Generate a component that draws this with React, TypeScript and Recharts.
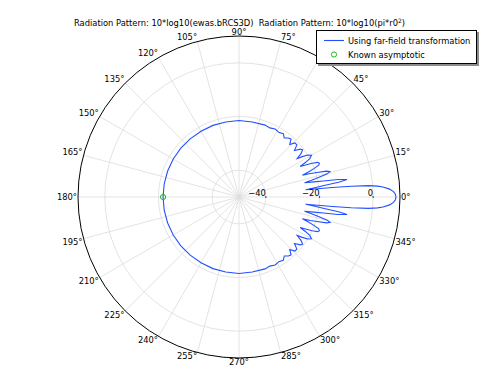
import { RadarChart, Radar, PolarGrid, PolarAngleAxis, PolarRadiusAxis } from "recharts";

// forward half (0..70 deg); the pattern is symmetric about 0 deg
const upperAngles = [
  0, 1, 2, 3, 4, 4.5, 5, 5.5, 5.8, 6.2,
  7, 7.7, 8.4, 9.2, 10, 10.7, 11.4, 12.2,
  13, 13.8, 14.7, 15.6, 16.5, 17.4, 18.2, 19,
  19.8, 20.8, 21.8, 22.8, 23.8, 24.8, 25.7, 26.5,
  27.5, 28.5, 30, 31.5, 32.5, 33.5,
  35, 36.5, 38, 40, 42, 44, 46, 48, 50, 52.5, 55, 58, 62, 66, 70,
];
const upperDb = [
  8.5, 8.3, 7.6, 6.2, 3.8, 1.8, -1.5, -8, -15, -25,
  -21.5, -18, -12.5, -9.2, -12.5, -18, -21.5, -25,
  -22, -19.5, -16, -14.8, -16, -19.5, -22, -25,
  -22.5, -20, -18, -17.5, -18, -20, -22.5, -24.5,
  -22, -20, -18.8, -20, -22, -24,
  -21.8, -20.5, -21, -23, -21, -21, -22.8, -21, -21.3, -22.3, -21.2, -21.7, -21.3, -21.8, -21.5,
];

// back half, nearly flat
const backAngles = [
  80, 90, 100, 110, 120, 130, 140, 150, 160, 170, 180, 190, 200, 210, 220, 230, 240, 250, 260, 270, 280,
];
const backDb = [
  -21.6, -21.5, -21.6, -21.6, -21.7, -21.7, -21.7, -21.7, -21.7, -21.7, -21.7, -21.7, -21.7, -21.7, -21.7,
  -21.7, -21.7, -21.6, -21.6, -21.5, -21.6,
];

// known asymptotic value, 10*log10(pi*r0^2)
const asymAngle = 180;
const asymDb = -21.7;

const angleTicks = [0, 15, 30, 45, 60, 75, 90, 105, 120, 135, 150, 165, 180, 195, 210, 225, 240, 255, 270, 285, 300, 315, 330, 345];
const radiusTicks = [-40, -20, 0];
const radiusDomain = [-50, 10];

const FONT = "'DejaVu Sans', sans-serif";
const FS = 8.33;
const BLUE = "#2250ff";
const GREEN = "#22b522";

const rows: { angle: number; db: number; asym?: number }[] = [];
upperAngles.forEach((a, i) => rows.push({ angle: a, db: upperDb[i] }));
backAngles.forEach((a, i) => rows.push({ angle: a, db: backDb[i] }));
for (let i = upperAngles.length - 1; i > 0; i--) {
  rows.push({ angle: 360 - upperAngles[i], db: upperDb[i] });
}
rows.forEach((r) => {
  if (r.angle === asymAngle) r.asym = asymDb;
});

function fmtDb(v: number) {
  return v < 0 ? `\u2212${Math.abs(v)}` : `${v}`;
}

function AngleTick(props: any) {
  const { x, y, payload } = props;
  const a = (payload.value * Math.PI) / 180;
  const c = Math.cos(a);
  const s = Math.sin(a);
  const anchor = c > 0.05 ? "start" : c < -0.05 ? "end" : "middle";
  const dy = s > 0.05 ? -0.5 : s < -0.05 ? 6 : 3;
  return (
    <text x={x} y={y} dy={dy} textAnchor={anchor} fontSize={FS} fontFamily={FONT} fill="#000">
      {payload.value}°
    </text>
  );
}

function RadiusTick(props: any) {
  const { x, y, payload } = props;
  return (
    <g>
      <circle cx={x} cy={y} r={0.7} fill="#000" />
      <text x={x} y={y - 0.8} textAnchor="end" fontSize={FS} fontFamily={FONT} fill="#000">
        {fmtDb(payload.value)}
      </text>
    </g>
  );
}

function DotTick(props: any) {
  return <circle cx={props.x} cy={props.y} r={0.7} fill="#000" />;
}

function asymDot(props: any) {
  const { cx, cy, payload, index } = props;
  if (payload == null || payload.asym == null) return <g key={index} />;
  return <circle key={index} cx={cx} cy={cy} r={2.6} fill="none" stroke={GREEN} strokeWidth={1} />;
}

export default function App() {
  return (
    <div style={{ position: "absolute", left: 0, top: 0, width: 479, height: 366, background: "#fff" }}>
      <div
        style={{
          position: "absolute",
          left: 0,
          top: 17.5,
          width: 479,
          textAlign: "center",
          fontFamily: FONT,
          fontSize: FS,
          lineHeight: "10px",
          whiteSpace: "pre",
          color: "#000",
        }}
      >
        {"Radiation Pattern: 10*log10(ewas.bRCS3D)  Radiation Pattern: 10*log10(pi*r0"}
        <span style={{ fontSize: 6, position: "relative", top: -3 }}>2</span>
        {")"}
      </div>
      <RadarChart
        width={479}
        height={366}
        data={rows}
        cx={239}
        cy={197}
        innerRadius={0}
        outerRadius={161}
        startAngle={0}
        endAngle={360}
        margin={{ top: 0, right: 0, bottom: 0, left: 0 }}
        style={{ position: "absolute", left: 0, top: 0 }}
      >
        <PolarGrid gridType="circle" stroke="#dcdcdc" strokeWidth={0.8} />
        <PolarAngleAxis
          dataKey="angle"
          type="number"
          domain={[0, 360]}
          ticks={angleTicks}
          tick={AngleTick}
          tickLine={false}
          tickSize={1}
          axisLineType="circle"
          axisLine={{ stroke: "#000", strokeWidth: 1 }}
        />
        <PolarRadiusAxis
          angle={0}
          type="number"
          domain={radiusDomain}
          ticks={radiusTicks}
          tick={RadiusTick}
          axisLine={false}
          tickLine={false}
        />
        <PolarRadiusAxis radiusAxisId={1} angle={90} type="number" domain={radiusDomain} ticks={radiusTicks} tick={DotTick} axisLine={false} tickLine={false} />
        <PolarRadiusAxis radiusAxisId={2} angle={180} type="number" domain={radiusDomain} ticks={radiusTicks} tick={DotTick} axisLine={false} tickLine={false} />
        <PolarRadiusAxis radiusAxisId={3} angle={270} type="number" domain={radiusDomain} ticks={radiusTicks} tick={DotTick} axisLine={false} tickLine={false} />
        <Radar
          dataKey="db"
          stroke={BLUE}
          strokeWidth={1.1}
          fill="none"
          fillOpacity={0}
          dot={false}
          isAnimationActive={false}
        />
        <Radar
          dataKey="asym"
          stroke="none"
          fill="none"
          fillOpacity={0}
          dot={asymDot}
          isAnimationActive={false}
        />
      </RadarChart>
      <div
        style={{
          position: "absolute",
          left: 316,
          top: 30,
          width: 159,
          height: 32,
          border: "1px solid #000",
          background: "#fff",
          boxShadow: "2px 2px 0 #8c8c8c",
          fontFamily: FONT,
          fontSize: FS,
          lineHeight: "10px",
          color: "#000",
        }}
      >
        <svg width={40} height={32} style={{ position: "absolute", left: 0, top: 0 }}>
          <line x1={7} y1={9.5} x2={27} y2={9.5} stroke={BLUE} strokeWidth={1.1} />
          <circle cx={17} cy={23.5} r={2.6} fill="none" stroke={GREEN} strokeWidth={1} />
        </svg>
        <div style={{ position: "absolute", left: 31, top: 4.5, whiteSpace: "nowrap" }}>Using far-field transformation</div>
        <div style={{ position: "absolute", left: 31, top: 18.5, whiteSpace: "nowrap" }}>Known asymptotic</div>
      </div>
    </div>
  );
}
